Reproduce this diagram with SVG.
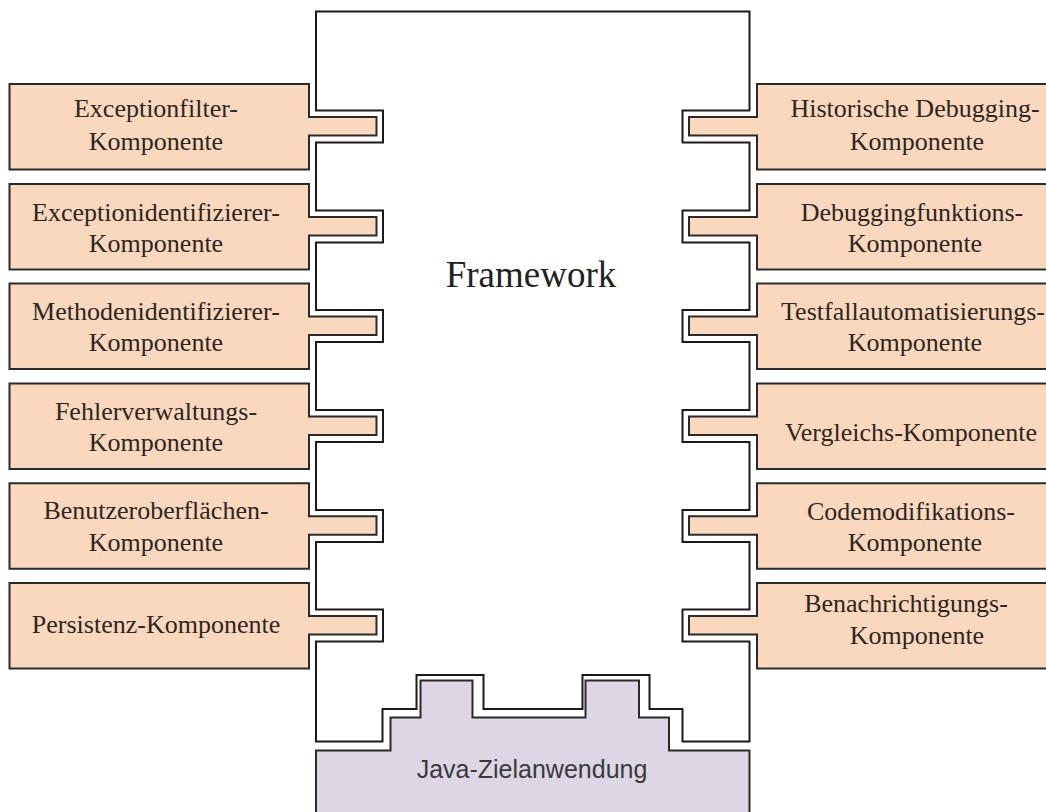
<svg xmlns="http://www.w3.org/2000/svg" width="1046" height="812" viewBox="0 0 1046 812">
<style>
.comp{fill:#F9D8BE;stroke:#2a2a2a;stroke-width:2;stroke-linejoin:miter}
.fw{fill:#FFFFFF;stroke:#1a1a1a;stroke-width:2;stroke-linejoin:miter}
.java{fill:#DCD6E5;stroke:#2a2a2a;stroke-width:2;stroke-linejoin:miter}
.t{font-family:"Liberation Serif","Times New Roman",serif;font-size:26px;fill:#2e2620;text-anchor:middle}
.fwt{font-family:"Liberation Serif","Times New Roman",serif;font-size:37px;fill:#222;text-anchor:middle}
.jt{font-family:"Liberation Sans",Arial,sans-serif;font-size:25px;fill:#3a3a3a;text-anchor:middle}
</style>
<rect x="0" y="0" width="1046" height="812" fill="#FFFFFF"/>
<g id="framework">
<path class="fw" d="M316,11.5 H749.5 V110.5 H682.5 V142.5 H749.5 V210.5 H682.5 V242.5 H749.5 V310 H682.5 V342 H749.5 V410 H682.5 V442 H749.5 V510 H682.5 V542 H749.5 V609.5 H682.5 V641.5 H749.5 V741.5 H682.5 V709 H649.5 V675 H582.5 V709 H483.5 V675 H416.5 V709 H382.5 V741.5 H316 V641.5 H383 V609.5 H316 V542 H383 V510 H316 V442 H383 V410 H316 V342 H383 V310 H316 V242.5 H383 V210.5 H316 V142.5 H383 V110.5 H316 Z"/>
<text class="fwt" x="531" y="287">Framework</text>
</g>
<g id="java">
<path class="java" d="M316,750.5 H390.5 V717.5 H420.5 V680.5 H472.5 V717.5 H585.5 V680.5 H639 V717.5 H669 V750.5 H749.5 V830 H316 Z"/>
<text class="jt" x="532" y="778">Java-Zielanwendung</text>
</g>
<g id="connectors"></g>
<g id="exceptionfilter">
<path class="comp" d="M9.5,84 H309 V117 H376.5 V135.5 H309 V169.5 H9.5 Z"/>
<text class="t" x="156" y="117">Exceptionfilter-</text>
<text class="t" x="156" y="150">Komponente</text>
</g>
<g id="exceptionidentifizierer">
<path class="comp" d="M9.5,184 H309 V217 H376.5 V235.5 H309 V269.5 H9.5 Z"/>
<text class="t" x="156" y="220.5">Exceptionidentifizierer-</text>
<text class="t" x="156" y="252">Komponente</text>
</g>
<g id="methodenidentifizierer">
<path class="comp" d="M9.5,283.5 H309 V316.5 H376.5 V335 H309 V369 H9.5 Z"/>
<text class="t" x="156" y="319.5">Methodenidentifizierer-</text>
<text class="t" x="156" y="351">Komponente</text>
</g>
<g id="fehlerverwaltung">
<path class="comp" d="M9.5,383.5 H309 V416.5 H376.5 V435 H309 V469 H9.5 Z"/>
<text class="t" x="156" y="419.5">Fehlerverwaltungs-</text>
<text class="t" x="156" y="451">Komponente</text>
</g>
<g id="benutzeroberflaechen">
<path class="comp" d="M9.5,483.3 H309 V516.3 H376.5 V534.8 H309 V568.8 H9.5 Z"/>
<text class="t" x="156" y="518.5">Benutzeroberflächen-</text>
<text class="t" x="156" y="551">Komponente</text>
</g>
<g id="persistenz">
<path class="comp" d="M9.5,583 H309 V616 H376.5 V634.5 H309 V668.5 H9.5 Z"/>
<text class="t" x="156" y="633">Persistenz-Komponente</text>
</g>
<g id="historische-debugging">
<path class="comp" d="M1060,84 H757 V117 H689 V135.5 H757 V169.5 H1060 Z"/>
<text class="t" x="915" y="117">Historische Debugging-</text>
<text class="t" x="917" y="150">Komponente</text>
</g>
<g id="debuggingfunktions">
<path class="comp" d="M1060,184 H757 V217 H689 V235.5 H757 V269.5 H1060 Z"/>
<text class="t" x="912" y="220.5">Debuggingfunktions-</text>
<text class="t" x="915" y="252">Komponente</text>
</g>
<g id="testfallautomatisierung">
<path class="comp" d="M1060,283.5 H757 V316.5 H689 V335 H757 V369 H1060 Z"/>
<text class="t" x="913" y="319.5">Testfallautomatisierungs-</text>
<text class="t" x="915" y="351">Komponente</text>
</g>
<g id="vergleichs">
<path class="comp" d="M1060,383.5 H757 V416.5 H689 V435 H757 V469 H1060 Z"/>
<text class="t" x="911" y="441">Vergleichs-Komponente</text>
</g>
<g id="codemodifikations">
<path class="comp" d="M1060,483.3 H757 V516.3 H689 V534.8 H757 V568.8 H1060 Z"/>
<text class="t" x="911" y="519.5">Codemodifikations-</text>
<text class="t" x="915" y="551">Komponente</text>
</g>
<g id="benachrichtigungs">
<path class="comp" d="M1060,583 H757 V616 H689 V634.5 H757 V668.5 H1060 Z"/>
<text class="t" x="906" y="612">Benachrichtigungs-</text>
<text class="t" x="917" y="644">Komponente</text>
</g>
</svg>
